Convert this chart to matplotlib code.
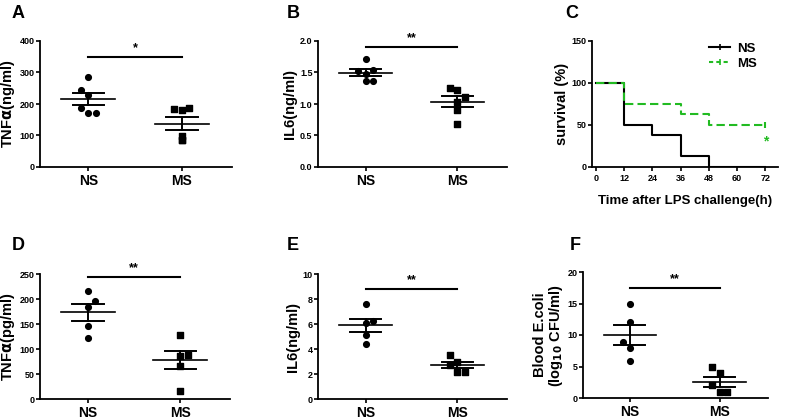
import numpy as np
import matplotlib.pyplot as plt

plt.rcParams['font.family'] = ['Liberation Sans', 'DejaVu Sans']
plt.rcParams['font.weight'] = 'bold'
plt.rcParams['axes.labelweight'] = 'bold'
plt.rcParams['mathtext.default'] = 'bf'

groups = ['NS', 'MS']

# panel A: TNFa (ng/ml)
a_ns = [287, 243, 229, 186, 172, 172]
a_ms = [183, 181, 186, 98, 87, 87]
# panel B: IL6 (ng/ml)
b_ns = [1.71, 1.52, 1.48, 1.54, 1.36, 1.36]
b_ms = [1.26, 1.22, 1.11, 1.03, 0.90, 0.69]
# panel D: TNFa (pg/ml)
d_ns = [216, 197, 185, 146, 123]
d_ms = [129, 87, 89, 66, 17]
# panel E: IL6 (ng/ml)
e_ns = [7.6, 6.12, 6.22, 5.1, 4.41]
e_ms = [3.56, 2.73, 2.97, 2.2, 2.2]
# panel F: blood E.coli
f_ns = [15.0, 12.0, 8.9, 8.0, 5.9]
f_ms = [5.0, 3.9, 2.1, 0.95, 0.95]

# x jitter of points (in group units)
jit6 = [0, -0.08, 0, -0.08, 0, 0.08]
jit6_ms = [-0.08, 0, 0.08, 0, 0, 0]
jit5_d = [0, 0.08, 0, 0, 0]
jit5_dms = [0, 0, 0.08, 0, 0]
jit5_e = [0, 0, 0.08, 0, 0]
jit5_ems = [-0.08, -0.08, 0, 0, 0.08]
jit5_f = [0, 0, -0.08, 0, 0]
jit5_fms = [-0.08, 0, -0.08, 0, 0.08]
jit6_bns = [0, -0.08, 0, 0.08, 0, 0.08]
jit6_bms = [-0.08, 0, 0.08, 0, 0, 0]

# survival (%) at times (h)
surv_t = [0, 12, 24, 36, 48, 72]
surv_ns = [100, 50, 37.5, 12.5, 0, 0]
surv_ms = [100, 75, 75, 62.5, 50, 50]

fig = plt.figure(figsize=(7.87, 4.19), dpi=100)
W, H = 787, 419


def box(l, r, t, b):
    return [l / W, 1 - b / H, (r - l) / W, (b - t) / H]


def style(ax):
    for s in ['top', 'right']:
        ax.spines[s].set_visible(False)
    for s in ['left', 'bottom']:
        ax.spines[s].set_linewidth(1.3)
    ax.tick_params(axis='y', labelsize=6.5, width=1.2, length=3, pad=1)
    ax.tick_params(axis='x', labelsize=10, width=1.2, length=3, pad=2)


def dotplot(ax, ns, ms, jn, jm, ymax, yticks, ylabel, sig, sigy):
    style(ax)
    ax.scatter(np.array(jn), ns, s=17, c='black', marker='o', zorder=3)
    ax.scatter(1 + np.array(jm), ms, s=17, c='black', marker='s', zorder=3)
    for i, vals in enumerate([ns, ms]):
        m = np.mean(vals)
        se = np.std(vals, ddof=1) / np.sqrt(len(vals))
        ax.plot([i - 0.29, i + 0.29], [m, m], color='black', lw=1.2)
        ax.plot([i - 0.17, i + 0.17], [m + se, m + se], color='black', lw=1.4)
        ax.plot([i - 0.17, i + 0.17], [m - se, m - se], color='black', lw=1.4)
        ax.plot([i, i], [m - se, m + se], color='black', lw=1.4)
    ax.plot([0, 1], [sigy, sigy], color='black', lw=1.5)
    ax.text(0.5, sigy + ymax * 0.02, sig, ha='center', va='bottom', fontsize=9)
    ax.set_xlim(-0.52, 1.54)
    ax.set_ylim(0, ymax)
    ax.set_yticks(yticks)
    ax.set_xticks([0, 1])
    ax.set_xticklabels(groups)
    ax.set_ylabel(ylabel, fontsize=10.5, labelpad=2)


axA = fig.add_axes(box(40, 232, 41, 167))
dotplot(axA, a_ns, a_ms, jit6, jit6_ms, 400, [0, 100, 200, 300, 400],
        r'TNF$\alpha$(ng/ml)', '*', 349)

axB = fig.add_axes(box(318, 507, 41, 167))
dotplot(axB, b_ns, b_ms, jit6_bns, jit6_bms, 2.0, [0, 0.5, 1.0, 1.5, 2.0],
        'IL6(ng/ml)', '**', 1.91)
axB.set_yticklabels(['0.0', '0.5', '1.0', '1.5', '2.0'])

axD = fig.add_axes(box(40, 230, 274, 399))
dotplot(axD, d_ns, d_ms, jit5_d, jit5_dms, 250, [0, 50, 100, 150, 200, 250],
        r'TNF$\alpha$(pg/ml)', '**', 245)

axE = fig.add_axes(box(318, 507, 274, 399))
dotplot(axE, e_ns, e_ms, jit5_e, jit5_ems, 10, [0, 2, 4, 6, 8, 10],
        'IL6(ng/ml)', '**', 8.8)

axF = fig.add_axes(box(583, 768, 272, 398))
dotplot(axF, f_ns, f_ms, jit5_f, jit5_fms, 20, [0, 5, 10, 15, 20],
        'Blood E.coli\n(log$_{10}$ CFU/ml)', '**', 17.5)
axF.yaxis.label.set_linespacing(1.0)

# panel C: survival
axC = fig.add_axes(box(592, 778, 41, 167))
style(axC)
axC.tick_params(axis='x', labelsize=6.5)
axC.step(surv_t, surv_ns, where='post', color='black', lw=1.5)
axC.step(surv_t, surv_ms, where='post', color='#22bb22', lw=1.5, ls=(0, (4, 2)))
axC.plot([72], [50], marker='|', color='#22bb22', ms=5, mew=1.5)
axC.text(72, 30, '*', color='#22bb22', ha='center', va='center', fontsize=10)
axC.set_xlim(-1.6, 77.4)
axC.set_ylim(0, 150)
axC.set_xticks([0, 12, 24, 36, 48, 60, 72])
axC.set_yticks([0, 50, 100, 150])
axC.set_xlabel('Time after LPS challenge(h)', fontsize=9.5, labelpad=9)
axC.set_ylabel('survival (%)', fontsize=10.5, labelpad=2)
hn, = axC.plot([], [], color='black', lw=1.5, marker='|', ms=5, mew=1.2)
hm, = axC.plot([], [], color='#22bb22', lw=1.5, ls=(0, (2, 1.5)), marker='|', ms=5, mew=1.2)
axC.legend([hn, hm], groups, loc='upper right', frameon=False, fontsize=9.5,
           handlelength=1.6, borderaxespad=0.1, labelspacing=0.2, handletextpad=0.5,
           bbox_to_anchor=(0.92, 1.04))

# panel letters
letters = ['A', 'B', 'C', 'D', 'E', 'F']
letter_xy = [(12, 14), (287, 14), (565, 14), (12, 245), (287, 245), (570, 245)]
for lab, (lx, ly) in zip(letters, letter_xy):
    fig.text(lx / W, 1 - ly / H, lab, fontsize=13, fontweight='bold', va='center')

fig.savefig('out.png', dpi=100)
